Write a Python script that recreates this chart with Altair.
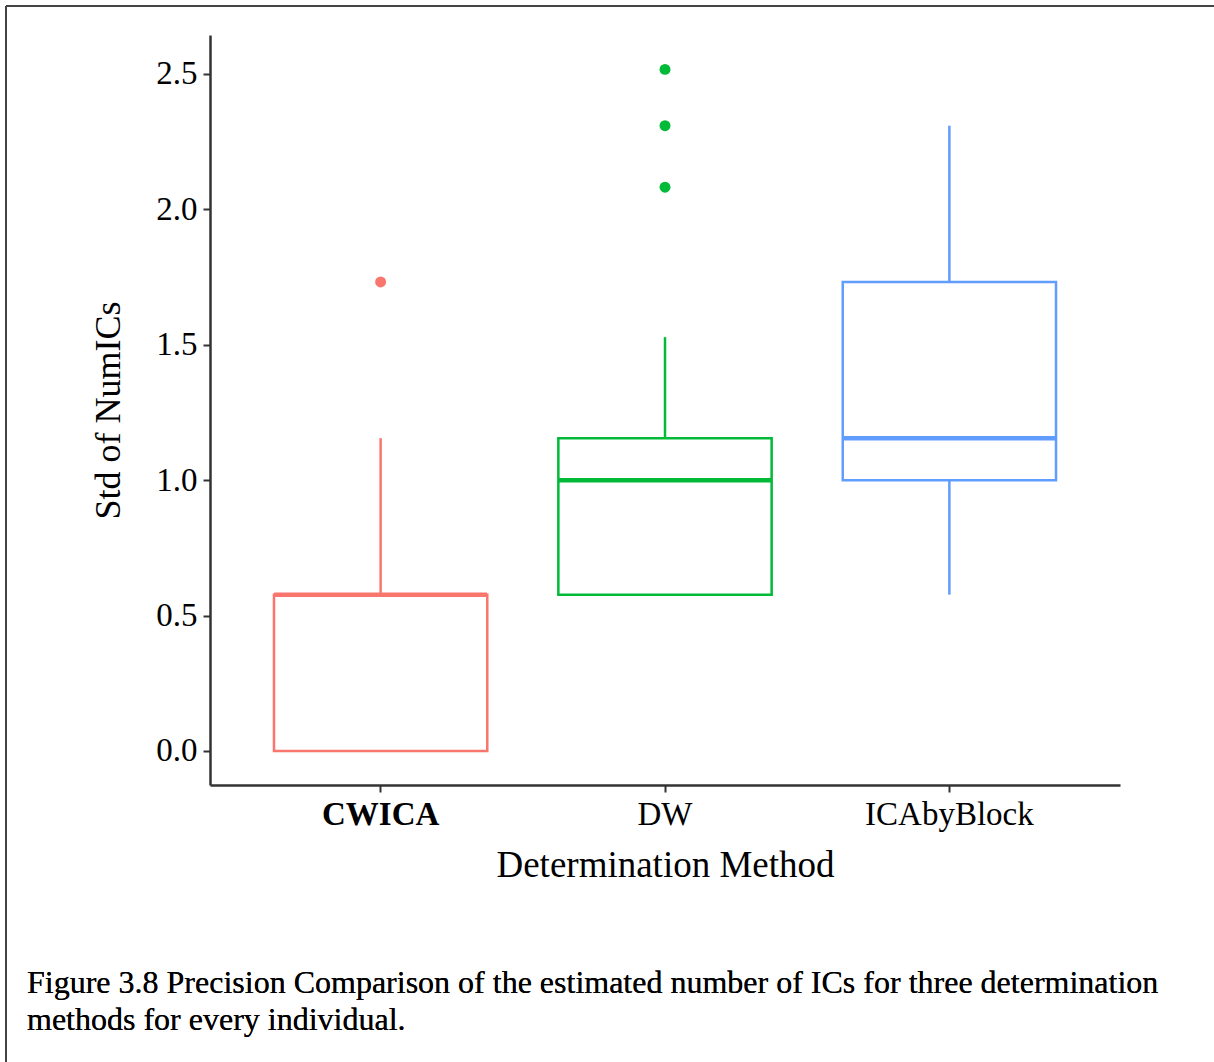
import altair as alt
import pandas as pd

methods = ["CWICA", "DW", "ICAbyBlock"]
q1 = [0.0, 0.577, 1.0]
median = [0.577, 1.0, 1.155]
q3 = [0.577, 1.155, 1.732]
whisker_low = [0.0, 0.577, 0.577]
whisker_high = [1.155, 1.528, 2.309]
outlier_method = ["CWICA", "DW", "DW", "DW"]
outlier_value = [1.732, 2.082, 2.309, 2.517]
colors = ["#F8766D", "#00BA38", "#619CFF"]
caption = [
    "Figure 3.8 Precision Comparison of the estimated number of ICs for three determination",
    "methods for every individual.",
]

box_df = pd.DataFrame({
    "method": methods, "q1": q1, "median": median, "q3": q3,
    "lo": whisker_low, "hi": whisker_high,
})
out_df = pd.DataFrame({"method": outlier_method, "value": outlier_value})

FONT = "Liberation Serif"

x_enc = alt.X(
    "method:N",
    sort=methods,
    scale=alt.Scale(domain=methods, paddingInner=0.25, paddingOuter=0.225),
    axis=alt.Axis(
        title="Determination Method",
        labelAngle=0,
        labelFont=FONT, labelFontSize=33, labelColor="black",
        labelFontWeight={"condition": {"test": "datum.value == 'CWICA'", "value": "bold"}, "value": "normal"},
        labelPadding=6,
        titleFont=FONT, titleFontSize=37, titleFontWeight="normal", titleColor="black",
        titlePadding=16,
        domainColor="#333333", domainWidth=2.5,
        tickColor="#333333", tickWidth=2, tickSize=7,
        grid=False,
    ),
)
y_scale = alt.Scale(domain=[-0.126, 2.644], nice=False, zero=False)
y_axis = alt.Axis(
    title="Std of NumICs",
    values=[0, 0.5, 1.0, 1.5, 2.0, 2.5],
    format=".1f",
    labelFont=FONT, labelFontSize=33, labelColor="black", labelPadding=6,
    titleFont=FONT, titleFontSize=36, titleFontWeight="normal", titleColor="black",
    titlePadding=28,
    domainColor="#333333", domainWidth=2.5,
    tickColor="#333333", tickWidth=2, tickSize=7,
    grid=False,
)
color_enc = alt.Color("method:N", scale=alt.Scale(domain=methods, range=colors), legend=None)

base = alt.Chart(box_df)

upper_whisker = base.mark_rule(strokeWidth=2.5).encode(
    x=x_enc, y=alt.Y("q3:Q", scale=y_scale, axis=y_axis), y2="hi:Q", color=color_enc
)
lower_whisker = base.mark_rule(strokeWidth=2.5).encode(
    x=x_enc, y=alt.Y("lo:Q", scale=y_scale, axis=y_axis), y2="q1:Q", color=color_enc
)
box = base.mark_bar(fill="white", strokeWidth=2.5).encode(
    x=x_enc, y=alt.Y("q1:Q", scale=y_scale, axis=y_axis), y2="q3:Q",
    stroke=alt.Stroke("method:N", scale=alt.Scale(domain=methods, range=colors), legend=None),
)
med = base.mark_tick(size=213, thickness=4.5, opacity=1).encode(
    x=x_enc, y=alt.Y("median:Q", scale=y_scale, axis=y_axis), color=color_enc
)
points = alt.Chart(out_df).mark_circle(size=120, opacity=1).encode(
    x=x_enc, y=alt.Y("value:Q", scale=y_scale, axis=y_axis), color=color_enc
)

frame_top = alt.Chart(box_df).mark_rule(color="#444444", strokeWidth=2).encode(
    x=alt.value(-204), x2=alt.value(1010), y=alt.value(-29)
)
frame_left = alt.Chart(box_df).mark_rule(color="#444444", strokeWidth=2).encode(
    x=alt.value(-204), y=alt.value(-29), y2=alt.value(1040)
)

cap_df = pd.DataFrame({"line": caption})
cap1 = alt.Chart(cap_df).mark_text(
    font=FONT, fontSize=32, color="black", align="left", baseline="alphabetic"
).encode(x=alt.value(-183), y=alt.value(958), text=alt.value(caption[0]))
cap2 = alt.Chart(cap_df).mark_text(
    font=FONT, fontSize=32, color="black", align="left", baseline="alphabetic"
).encode(x=alt.value(-183), y=alt.value(995), text=alt.value(caption[1]))

chart = alt.layer(
    upper_whisker, lower_whisker, box, med, points, frame_top, frame_left, cap1, cap2
).properties(
    width=910,
    height=750,
    autosize=alt.AutoSizeParams(type="none"),
    padding={"left": 210, "top": 35, "right": 94, "bottom": 277},
).configure(background="white").configure_view(strokeWidth=0, stroke="transparent")

chart.save("out.html", embed_options={"renderer": "svg", "actions": False})
